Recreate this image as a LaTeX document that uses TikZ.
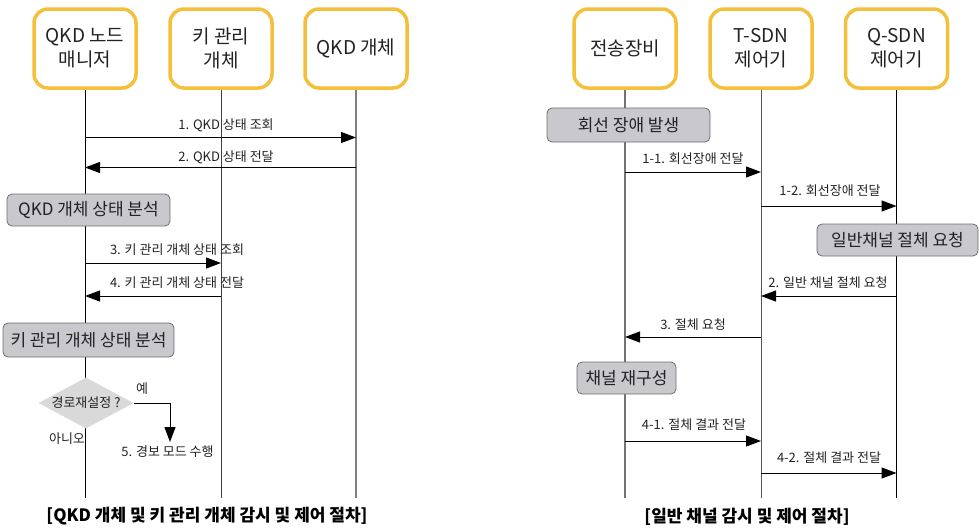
\documentclass[tikz,border=0pt]{standalone}
\usepackage{fontspec}
\setmainfont{Noto Sans CJK KR}
\usetikzlibrary{arrows.meta,shapes.geometric}
\definecolor{hy}{HTML}{F4C03C}
\definecolor{gfill}{HTML}{C9C8CC}
\definecolor{gdraw}{HTML}{6E6E6E}
\definecolor{dfill}{HTML}{D9D9D9}
\definecolor{txt}{HTML}{222222}
\begin{document}
\begin{tikzpicture}[x=1pt,y=-1pt,
  head/.style={draw=hy, line width=3.5pt, rounded corners=14pt, minimum width=102pt,
    minimum height=79pt, align=center, inner sep=0pt, text=txt,
    font=\fontsize{19}{24}\selectfont},
  proc/.style={draw=gdraw, fill=gfill, rounded corners=5pt, inner sep=0pt, text=txt,
    font=\fontsize{17}{20}\selectfont, line width=0.8pt},
  life/.style={line width=1pt},
  msg/.style={line width=1pt, -{Triangle[length=15pt,width=11pt]}},
  mlab/.style={font=\fontsize{13}{15}\selectfont, text=txt, inner sep=0pt},
  captxt/.style={font=\fontsize{17}{20}\selectfont\bfseries, inner sep=0pt}
]
\useasboundingbox (0,0) rectangle (979,530);
% heads
\node[head] (qa) at (85,48.5) {QKD 노드\\매니저};
\node[head] (qb) at (221,48.5) {키 관리\\개체};
\node[head] (qc) at (356,48.5) {QKD 개체};
\node[head] (ra) at (625,48.5) {전송장비};
\node[head] (rb) at (761,48.5) {T-SDN\\제어기};
\node[head] (rc) at (896.5,48.5) {Q-SDN\\제어기};
% lifelines
\draw[life] (qa.south) -- (qa.south |- 0,498);
\draw[life, draw=black!75] (qb.south) -- (qb.south |- 0,498);
\draw[life, draw=black!50, line width=1.5pt] (qc.south) -- (qc.south |- 0,498);
\draw[life, draw=black!55, line width=1.4pt] (ra.south) -- (ra.south |- 0,498);
\draw[life, draw=black!65] (rb.south) -- (rb.south |- 0,498);
\draw[life] (rc.south) -- (rc.south |- 0,498);
% left messages
\draw[msg] (qa.south |- 0,137.5) -- (qc.south |- 0,137.5);
\node[mlab] (l1) at (226,125) {1. QKD 상태 조회};
\draw[msg] (qc.south |- 0,167.5) -- (qa.south |- 0,167.5);
\node[mlab] (l2) at (226,157.5) {2. QKD 상태 전달};
\node[proc, minimum width=163pt, minimum height=32pt] (p1) at (88.5,210) {QKD 개체 상태 분석};
\draw[msg] (qa.south |- 0,263) -- (qb.south |- 0,263);
\node[mlab] (l3) at (177,250) {3. 키 관리 개체 상태 조회};
\draw[msg] (qb.south |- 0,296) -- (qa.south |- 0,296);
\node[mlab] (l4) at (177,283) {4. 키 관리 개체 상태 전달};
\node[proc, minimum width=171pt, minimum height=34pt] (p2) at (88.5,340) {키 관리 개체 상태 분석};
\node[diamond, fill=dfill, aspect=1.86, minimum width=95pt, minimum height=51pt, inner sep=0pt] (dia) at (86,403) {};
\node[mlab] (dtx) at (dia.center) {경로재설정 ?};
\coordinate (yesend) at (170,442);
\draw[msg] (dia.east) -| (yesend);
\node[mlab] (yes) at (142,389) {예};
\node[mlab] (no) at (67,438.5) {아니오};
\node[mlab] (l5) at (167.5,452) {5. 경보 모드 수행};
\node[captxt] (c1) at (207,516) {[QKD 개체 및 키 관리 개체 감시 및 제어 절차]};
% right side
\node[proc, minimum width=163pt, minimum height=34pt] (p3) at (628.5,125) {회선 장애 발생};
\draw[msg] (ra.south |- 0,172) -- (rb.south |- 0,172);
\node[mlab] (r11) at (693,159) {1-1. 회선장애 전달};
\draw[msg] (rb.south |- 0,206) -- (rc.south |- 0,206);
\node[mlab] (r12) at (830,191) {1-2. 회선장애 전달};
\node[proc, minimum width=161pt, minimum height=32pt] (p4) at (897.5,240) {일반채널 절체 요청};
\draw[msg] (rc.south |- 0,296) -- (rb.south |- 0,296);
\node[mlab] (r2) at (828,283) {2. 일반 채널 절체 요청};
\draw[msg] (rb.south |- 0,337) -- (ra.south |- 0,337);
\node[mlab] (r3) at (693,325) {3. 절체 요청};
\node[proc, minimum width=99pt, minimum height=32pt] (p5) at (626.5,378) {채널 재구성};
\draw[msg] (ra.south |- 0,441) -- (rb.south |- 0,441);
\node[mlab] (r41) at (694,425) {4-1. 절체 결과 전달};
\draw[msg] (rb.south |- 0,473) -- (rc.south |- 0,473);
\node[mlab] (r42) at (829,458) {4-2. 절체 결과 전달};
\node[captxt] (c2) at (747,517) {[일반 채널 감시 및 제어 절차]};
\end{tikzpicture}
\end{document}
